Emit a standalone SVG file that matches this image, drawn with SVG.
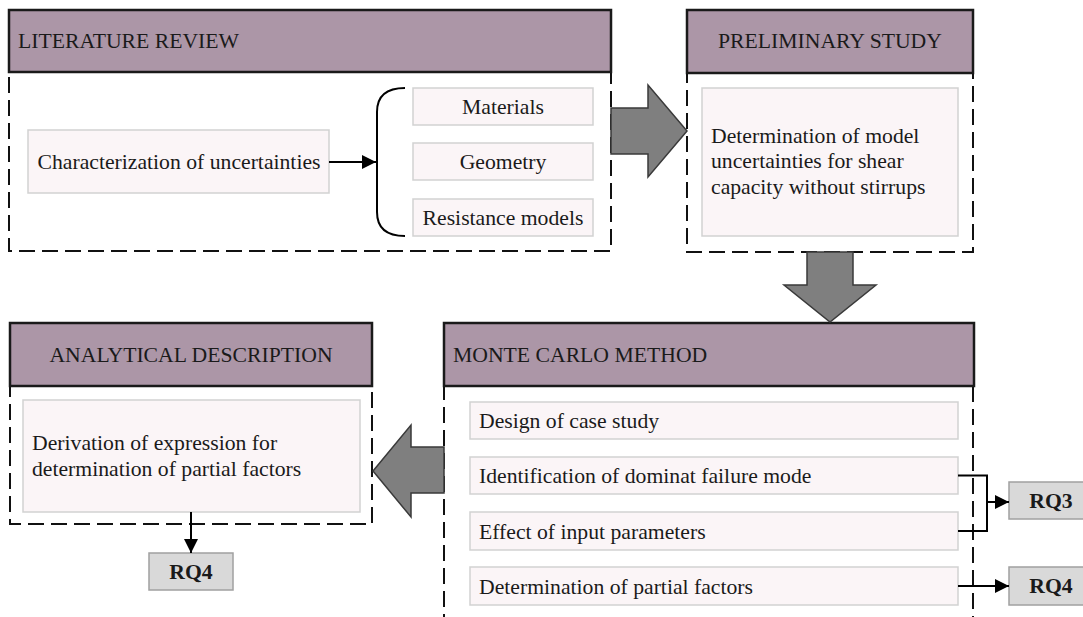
<svg xmlns="http://www.w3.org/2000/svg" width="1083" height="617" viewBox="0 0 1083 617">
  <style>
    .hdr { fill: #ac96a7; stroke: #1a1a1a; stroke-width: 2.5; }
    .panel { fill: none; stroke: #111; stroke-width: 2; stroke-dasharray: 16 7; }
    .item { fill: #fbf5f7; stroke: #d2d2d2; stroke-width: 1.5; }
    .rq { fill: #d9d9d9; stroke: #a0a0a0; stroke-width: 1.5; }
    .big { fill: #7f7f7f; stroke: #3a3a3a; stroke-width: 1.5; stroke-linejoin: miter; }
    text { font-size: 21.7px; fill: #1a1a1a; }
    .c { text-anchor: middle; }
    .b { font-weight: bold; }
    .line { fill: none; stroke: #000; stroke-width: 2; }
  </style>
  <defs>
    <marker id="tri2" viewBox="0 0 10 10" refX="10" refY="5" markerWidth="14" markerHeight="14" markerUnits="userSpaceOnUse" orient="auto">
      <path d="M0,0 L10,5 L0,10 Z" fill="#000"/>
    </marker>
  </defs>

  <g font-family="Liberation Serif, Times New Roman, DejaVu Serif, serif">
  <!-- Literature review -->
  <g id="literature-review">
    <rect class="panel" x="9" y="72" width="602" height="179"/>
    <rect class="hdr" x="9" y="10" width="602" height="62"/>
    <text x="18" y="48">LITERATURE REVIEW</text>
    <rect class="item" x="28" y="130" width="301" height="63"/>
    <text class="c" x="179" y="168.5">Characterization of uncertainties</text>
  </g>
  <g id="materials">
    <rect class="item" x="413" y="88" width="180" height="37"/>
    <text class="c" x="503" y="113.5">Materials</text>
  </g>
  <g id="geometry">
    <rect class="item" x="413" y="143" width="180" height="37"/>
    <text class="c" x="503" y="168.5">Geometry</text>
  </g>
  <g id="resistance-models">
    <rect class="item" x="413" y="199" width="180" height="37"/>
    <text class="c" x="503" y="224.5">Resistance models</text>
  </g>

  <!-- Preliminary study -->
  <g id="preliminary-study">
    <rect class="panel" x="687" y="73" width="286" height="179"/>
    <rect class="hdr" x="687" y="10" width="286" height="63"/>
    <text class="c" x="830" y="48">PRELIMINARY STUDY</text>
    <rect class="item" x="702" y="88" width="256" height="148"/>
    <text x="711" y="142.5">Determination of model</text>
    <text x="711" y="168">uncertainties for shear</text>
    <text x="711" y="193.5">capacity without stirrups</text>
  </g>

  <!-- Monte Carlo method -->
  <g id="monte-carlo-method">
    <rect class="panel" x="444" y="386" width="529" height="260"/>
    <rect class="hdr" x="444" y="323" width="530" height="63"/>
    <text x="453" y="361.5">MONTE CARLO METHOD</text>
  </g>
  <g id="design-case-study">
    <rect class="item" x="470" y="402" width="488" height="37"/>
    <text x="479" y="428">Design of case study</text>
  </g>
  <g id="failure-mode">
    <rect class="item" x="470" y="457" width="488" height="37"/>
    <text x="479" y="483">Identification of dominat failure mode</text>
  </g>
  <g id="input-parameters">
    <rect class="item" x="470" y="512" width="488" height="38"/>
    <text x="479" y="538.5">Effect of input parameters</text>
  </g>
  <g id="partial-factors">
    <rect class="item" x="470" y="567" width="488" height="38"/>
    <text x="479" y="593.5">Determination of partial factors</text>
  </g>

  <!-- Analytical description -->
  <g id="analytical-description">
    <rect class="panel" x="10" y="386" width="362" height="138"/>
    <rect class="hdr" x="10" y="323" width="362" height="63"/>
    <text class="c" x="191" y="361.5">ANALYTICAL DESCRIPTION</text>
    <rect class="item" x="23" y="400" width="337" height="112"/>
    <text x="32" y="449.5">Derivation of expression for</text>
    <text x="32" y="475.5">determination of partial factors</text>
  </g>

  <!-- Research questions -->
  <g id="rq4-left">
    <rect class="rq" x="149" y="553" width="84" height="37"/>
    <text class="c b" x="191" y="578.5">RQ4</text>
  </g>
  <g id="rq3">
    <rect class="rq" x="1009" y="482" width="84" height="37"/>
    <text class="c b" x="1051" y="507.5">RQ3</text>
  </g>
  <g id="rq4-right">
    <rect class="rq" x="1009" y="567" width="84" height="38"/>
    <text class="c b" x="1051" y="593">RQ4</text>
  </g>
  </g>

  <!-- Connectors -->
  <g id="connectors">
    <!-- block arrows between stages -->
    <polygon class="big" points="611,108 648,108 648,85 687,131 648,177 648,154 611,154"/>
    <polygon class="big" points="807,252 853,252 853,285 876,285 830,322 784,285 807,285"/>
    <polygon class="big" points="444,447 411,447 411,425 373,471 411,517 411,493 444,493"/>

    <!-- characterization to its three categories -->
    <line class="line" x1="329" y1="162" x2="376" y2="162" marker-end="url(#tri2)"/>
    <path class="line" d="M405,88 Q377,88 377,112 V212 Q377,236 405,236"/>

    <!-- Monte Carlo results to research questions -->
    <path class="line" d="M958,475.5 H987 V531 H958"/>
    <line class="line" x1="987" y1="502" x2="1009" y2="502" marker-end="url(#tri2)"/>
    <line class="line" x1="958" y1="586" x2="1009" y2="586" marker-end="url(#tri2)"/>
    <line class="line" x1="191" y1="512" x2="191" y2="553" marker-end="url(#tri2)"/>
  </g>
</svg>
